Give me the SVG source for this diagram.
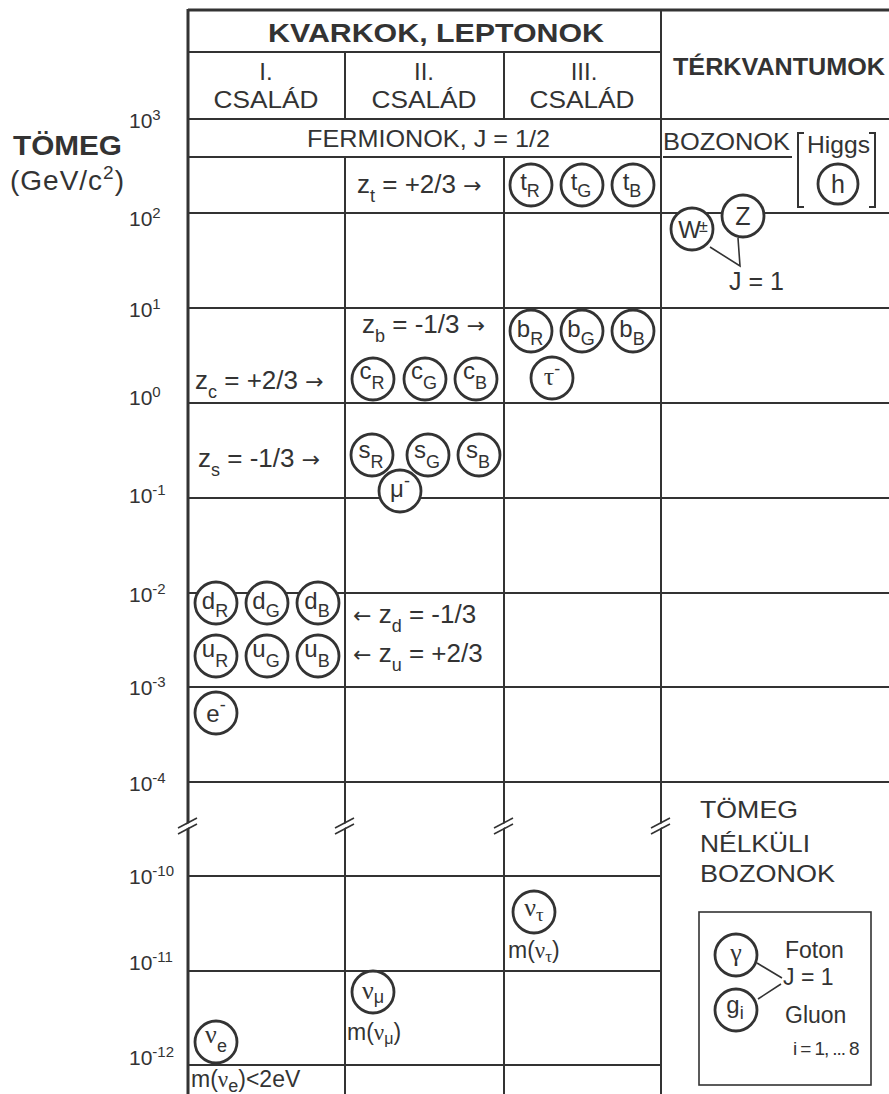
<svg xmlns="http://www.w3.org/2000/svg" width="889" height="1094" viewBox="0 0 889 1094">
<style>
.ln{stroke:#333;stroke-width:2;fill:none}
.bd{stroke:#333;stroke-width:3;fill:none}
.cn{stroke:#333;stroke-width:1.6;fill:none}
.p{fill:#fff;stroke:#333;stroke-width:2.8}
text{font-family:"Liberation Sans",Arial,Helvetica,sans-serif;fill:#333}
.t{font-size:24px}
.z{font-size:26px}
.ar{font-family:"DejaVu Sans",sans-serif;font-size:22px}
.hb{font-size:25px;font-weight:bold}
.tk{font-size:21px}
.sup{font-size:15px}
.c{font-size:24px;text-anchor:middle}
.s{font-size:18px}
.m{text-anchor:middle}
.gr{font-family:"Liberation Serif","Times New Roman",serif}
</style>
<rect width="889" height="1094" fill="#fff"/>
<g id="grid">
<line class="bd" x1="188" y1="10" x2="889" y2="10"/>
<line class="bd" x1="188" y1="9" x2="188" y2="1094"/>
<line class="ln" x1="345" y1="52" x2="345" y2="119"/>
<line class="ln" x1="345" y1="157" x2="345" y2="1094"/>
<line class="ln" x1="504" y1="52" x2="504" y2="119"/>
<line class="ln" x1="504" y1="157" x2="504" y2="1094"/>
<line class="ln" x1="661" y1="10" x2="661" y2="1094"/>
<line class="ln" x1="188" y1="52" x2="661" y2="52"/>
<line class="ln" x1="188" y1="119" x2="889" y2="119"/>
<line class="ln" x1="188" y1="157" x2="661" y2="157"/>
<line class="ln" x1="663" y1="157" x2="792" y2="157"/>
<line class="ln" x1="188" y1="213" x2="889" y2="213"/>
<line class="ln" x1="188" y1="308" x2="889" y2="308"/>
<line class="ln" x1="188" y1="403" x2="889" y2="403"/>
<line class="ln" x1="188" y1="498" x2="889" y2="498"/>
<line class="ln" x1="188" y1="593" x2="889" y2="593"/>
<line class="ln" x1="188" y1="687" x2="889" y2="687"/>
<line class="ln" x1="188" y1="782" x2="889" y2="782"/>
<line class="ln" x1="188" y1="876" x2="661" y2="876"/>
<line class="ln" x1="188" y1="971" x2="661" y2="971"/>
<line class="ln" x1="188" y1="1065" x2="661" y2="1065"/>
<path class="ln" d="M804,133 H798 V207 H804 M869,133 H875 V207 H869"/>
<rect class="ln" x="699" y="912" width="172" height="173" style="stroke-width:1.6"/>
</g>
<g id="breaks">
<polygon fill="#fff" points="178,829 197,819 197,823 178,833"/>
<path class="cn" d="M178,828 L197,818 M178,834 L197,824"/>
<polygon fill="#fff" points="335,829 354,819 354,823 335,833"/>
<path class="cn" d="M335,828 L354,818 M335,834 L354,824"/>
<polygon fill="#fff" points="494,829 513,819 513,823 494,833"/>
<path class="cn" d="M494,828 L513,818 M494,834 L513,824"/>
<polygon fill="#fff" points="651,829 670,819 670,823 651,833"/>
<path class="cn" d="M651,828 L670,818 M651,834 L670,824"/>
</g>
<g id="axis">
<text x="13" y="155" font-size="27" font-weight="bold" textLength="109" lengthAdjust="spacingAndGlyphs">TÖMEG</text>
<text x="10" y="190" font-size="28" textLength="114" lengthAdjust="spacing">(GeV/c<tspan font-size="19" dy="-11">2</tspan><tspan dy="11">)</tspan></text>
<text class="tk" x="129" y="128">10<tspan class="sup" dy="-8">3</tspan></text>
<text class="tk" x="129" y="226">10<tspan class="sup" dy="-8">2</tspan></text>
<text class="tk" x="129" y="317">10<tspan class="sup" dy="-8">1</tspan></text>
<text class="tk" x="129" y="405">10<tspan class="sup" dy="-8">0</tspan></text>
<text class="tk" x="129" y="503">10<tspan class="sup" dy="-8">-1</tspan></text>
<text class="tk" x="129" y="602">10<tspan class="sup" dy="-8">-2</tspan></text>
<text class="tk" x="129" y="695">10<tspan class="sup" dy="-8">-3</tspan></text>
<text class="tk" x="129" y="791">10<tspan class="sup" dy="-8">-4</tspan></text>
<text class="tk" x="129" y="884">10<tspan class="sup" dy="-8">-10</tspan></text>
<text class="tk" x="129" y="970">10<tspan class="sup" dy="-8">-11</tspan></text>
<text class="tk" x="129" y="1065">10<tspan class="sup" dy="-8">-12</tspan></text>
</g>
<g id="headers">
<text class="hb" x="268" y="42" textLength="336" lengthAdjust="spacingAndGlyphs">KVARKOK, LEPTONOK</text>
<text class="hb" x="673" y="75" style="font-size:24px" textLength="212" lengthAdjust="spacingAndGlyphs">TÉRKVANTUMOK</text>
<text class="t m" x="266" y="80">I.</text>
<text class="t m" x="424" y="80">II.</text>
<text class="t m" x="584" y="80">III.</text>
<text class="t m" x="266" y="108" textLength="105" lengthAdjust="spacingAndGlyphs">CSALÁD</text>
<text class="t m" x="424" y="108" textLength="105" lengthAdjust="spacingAndGlyphs">CSALÁD</text>
<text class="t m" x="582" y="108" textLength="105" lengthAdjust="spacingAndGlyphs">CSALÁD</text>
<text class="t" x="307" y="147" textLength="243" lengthAdjust="spacingAndGlyphs">FERMIONOK, J = 1/2</text>
<text class="t" x="663" y="150" textLength="127" lengthAdjust="spacingAndGlyphs">BOZONOK</text>
<text class="t" x="807" y="153" textLength="63" lengthAdjust="spacingAndGlyphs">Higgs</text>
</g>
<g id="charges">
<text class="z" x="357" y="193">z<tspan class="s" dy="9">t</tspan><tspan dy="-9"> = +2/3 </tspan><tspan class="ar">→</tspan></text>
<text class="z" x="362" y="333">z<tspan class="s" dy="9">b</tspan><tspan dy="-9"> = -1/3 </tspan><tspan class="ar">→</tspan></text>
<text class="z" x="195" y="389">z<tspan class="s" dy="9">c</tspan><tspan dy="-9"> = +2/3 </tspan><tspan class="ar">→</tspan></text>
<text class="z" x="198" y="467">z<tspan class="s" dy="9">s</tspan><tspan dy="-9"> = -1/3 </tspan><tspan class="ar">→</tspan></text>
<text class="z" x="353" y="623"><tspan class="ar">←</tspan> z<tspan class="s" dy="9">d</tspan><tspan dy="-9"> = -1/3</tspan></text>
<text class="z" x="353" y="662"><tspan class="ar">←</tspan> z<tspan class="s" dy="9">u</tspan><tspan dy="-9"> = +2/3</tspan></text>
</g>
<g id="connectors">
<path class="cn" d="M710,247 L740,266 L738,238"/>
<path class="cn" d="M757,963 L782,978 M758,999 L781,984"/>
</g>
<g id="top-quarks">
<circle class="p" cx="531" cy="185" r="21"/><text class="c" x="530" y="190">t<tspan class="s" dy="7">R</tspan></text>
<circle class="p" cx="582" cy="185" r="21"/><text class="c" x="581" y="190">t<tspan class="s" dy="7">G</tspan></text>
<circle class="p" cx="633" cy="185" r="21"/><text class="c" x="632" y="190">t<tspan class="s" dy="7">B</tspan></text>
</g>
<g id="higgs">
<circle class="p" cx="838" cy="184" r="20"/><text class="c" x="838" y="193" style="font-size:25px">h</text>
</g>
<g id="w-boson">
<circle class="p" cx="692" cy="229" r="21"/><text class="c" x="692" y="238" letter-spacing="-2">W<tspan font-size="16" dy="-6">±</tspan></text>
</g>
<g id="z-boson">
<circle class="p" cx="743" cy="216" r="21"/><text class="c" x="743" y="225" style="font-size:25px">Z</text>
</g>
<g id="j1-label"><text class="t" x="729" y="290" style="font-size:25px">J = 1</text></g>
<g id="bottom-quarks">
<circle class="p" cx="531" cy="331" r="21"/><text class="c" x="530" y="337">b<tspan class="s" dy="8">R</tspan></text>
<circle class="p" cx="582" cy="331" r="21"/><text class="c" x="581" y="337">b<tspan class="s" dy="8">G</tspan></text>
<circle class="p" cx="633" cy="331" r="21"/><text class="c" x="632" y="337">b<tspan class="s" dy="8">B</tspan></text>
</g>
<g id="tau">
<circle class="p" cx="552" cy="378" r="21"/><text class="c" x="552" y="385"><tspan class="gr" font-size="26">τ</tspan><tspan class="s" dy="-10">-</tspan></text>
</g>
<g id="charm-quarks">
<circle class="p" cx="373" cy="379" r="21"/><text class="c" x="372" y="379">c<tspan class="s" dy="10">R</tspan></text>
<circle class="p" cx="425" cy="379" r="21"/><text class="c" x="424" y="379">c<tspan class="s" dy="10">G</tspan></text>
<circle class="p" cx="476" cy="379" r="21"/><text class="c" x="475" y="379">c<tspan class="s" dy="10">B</tspan></text>
</g>
<g id="strange-quarks">
<circle class="p" cx="372" cy="455" r="21"/><text class="c" x="371" y="458">s<tspan class="s" dy="10">R</tspan></text>
<circle class="p" cx="428" cy="455" r="21"/><text class="c" x="427" y="458">s<tspan class="s" dy="10">G</tspan></text>
<circle class="p" cx="479" cy="455" r="21"/><text class="c" x="478" y="458">s<tspan class="s" dy="10">B</tspan></text>
</g>
<g id="muon">
<circle class="p" cx="400" cy="491" r="21"/><text class="c" x="400" y="497">μ<tspan class="s" dy="-10">-</tspan></text>
</g>
<g id="down-quarks">
<circle class="p" cx="216" cy="603" r="21"/><text class="c" x="215" y="609">d<tspan class="s" dy="8">R</tspan></text>
<circle class="p" cx="267" cy="603" r="21"/><text class="c" x="266" y="609">d<tspan class="s" dy="8">G</tspan></text>
<circle class="p" cx="318" cy="603" r="21"/><text class="c" x="317" y="609">d<tspan class="s" dy="8">B</tspan></text>
</g>
<g id="up-quarks">
<circle class="p" cx="216" cy="656" r="21"/><text class="c" x="215" y="657">u<tspan class="s" dy="10">R</tspan></text>
<circle class="p" cx="267" cy="656" r="21"/><text class="c" x="266" y="657">u<tspan class="s" dy="10">G</tspan></text>
<circle class="p" cx="318" cy="656" r="21"/><text class="c" x="317" y="657">u<tspan class="s" dy="10">B</tspan></text>
</g>
<g id="electron">
<circle class="p" cx="216" cy="713" r="21"/><text class="c" x="216" y="722">e<tspan class="s" dy="-11">-</tspan></text>
</g>
<g id="nu-tau">
<circle class="p" cx="534" cy="912" r="21"/><text class="c gr" x="534" y="916" style="font-size:26px">ν<tspan font-size="19" dy="5">τ</tspan></text>
<text class="t" x="508" y="958" style="font-size:23px">m(<tspan class="gr">ν</tspan><tspan class="gr" font-size="17" dy="4">τ</tspan><tspan dy="-4">)</tspan></text>
</g>
<g id="nu-mu">
<circle class="p" cx="373" cy="992" r="21"/><text class="c" x="373" y="999"><tspan class="gr" font-size="26">ν</tspan><tspan font-size="18" dy="4">μ</tspan></text>
<text class="t" x="347" y="1040" style="font-size:23px">m(<tspan class="gr">ν</tspan><tspan font-size="16" dy="4">μ</tspan><tspan dy="-4">)</tspan></text>
</g>
<g id="nu-e">
<circle class="p" cx="216" cy="1042" r="21"/><text class="c" x="216" y="1043"><tspan class="gr" font-size="26">ν</tspan><tspan class="s" dy="9">e</tspan></text>
<text class="t" x="191" y="1087" style="font-size:23px">m(<tspan class="gr">ν</tspan><tspan class="s" dy="5">e</tspan><tspan dy="-5">)&lt;2eV</tspan></text>
</g>
<g id="massless">
<text class="t" x="700" y="818" textLength="98" lengthAdjust="spacingAndGlyphs">TÖMEG</text>
<text class="t" x="700" y="852" textLength="110" lengthAdjust="spacingAndGlyphs">NÉLKÜLI</text>
<text class="t" x="700" y="882" textLength="135" lengthAdjust="spacingAndGlyphs">BOZONOK</text>
</g>
<g id="photon">
<circle class="p" cx="736" cy="955" r="21"/><text class="c gr" x="736" y="961" style="font-size:26px">γ</text>
<text class="t" x="785" y="958" style="font-size:23px">Foton</text>
</g>
<g id="gluon">
<circle class="p" cx="736" cy="1010" r="21"/><text class="c" x="735" y="1013">g<tspan class="s" dy="6">i</tspan></text>
<text class="t" x="785" y="1023" style="font-size:23px">Gluon</text>
<text class="t" x="793" y="1055" style="font-size:19px" letter-spacing="-1.1">i = 1, ... 8</text>
</g>
<g id="j1-gauge"><text class="t" x="783" y="985" style="font-size:23px">J = 1</text></g>
</svg>
